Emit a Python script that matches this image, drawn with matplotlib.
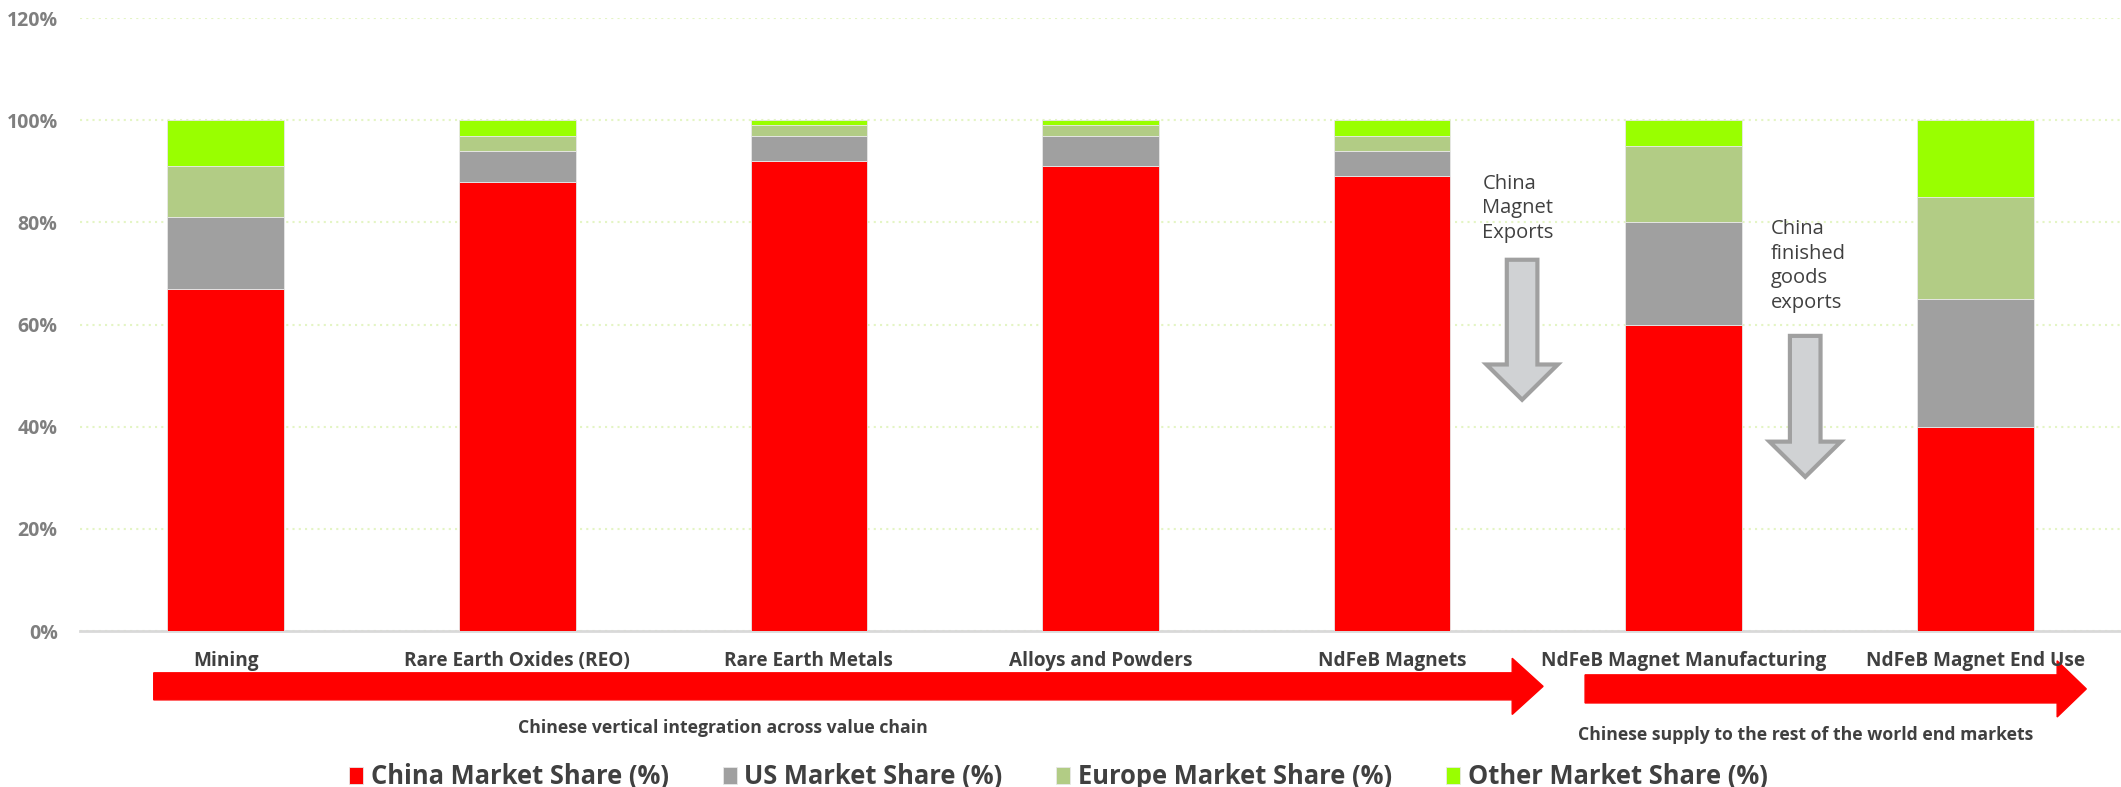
import matplotlib
matplotlib.use('Agg')
import matplotlib.pyplot as plt
from matplotlib.patches import FancyArrow
import numpy as np

plt.rcParams['font.family'] = ['Open Sans', 'DejaVu Sans']

# stage data (market share, %)
stages = ['Mining', 'Rare Earth Oxides (REO)', 'Rare Earth Metals', 'Alloys and Powders',
          'NdFeB Magnets', 'NdFeB Magnet Manufacturing', 'NdFeB Magnet End Use']
china = [67, 88, 92, 91, 89, 60, 40]
us = [14, 6, 5, 6, 5, 20, 25]
europe = [10, 3, 2, 2, 3, 15, 20]
other = [9, 3, 1, 1, 3, 5, 15]

series = [('China Market Share (%)', china, '#FF0000'),
          ('US Market Share (%)', us, '#A0A0A0'),
          ('Europe Market Share (%)', europe, '#B2CC85'),
          ('Other Market Share (%)', other, '#99FF00')]

fig = plt.figure(figsize=(21.21, 7.87), dpi=100)
ax = fig.add_axes([0.0377, 0.198, 0.9623, 0.779])

x = np.arange(len(stages))
bottom = np.zeros(len(stages))
for name, vals, col in series:
    ax.bar(x, vals, 0.4, bottom=bottom, color=col, label=name, zorder=3,
           edgecolor='#E8E8E8', linewidth=0.6)
    bottom += np.array(vals)

ax.set_xlim(-0.5, len(stages) - 0.5)
ax.set_ylim(0, 120)
ax.set_yticks(range(0, 121, 20))
ax.set_yticklabels([f'{v}%' for v in range(0, 121, 20)], fontsize=14,
                   fontweight='bold', color='#7F7F7F')
ax.set_xticks(x)
ax.set_xticklabels(stages, fontsize=13.7, fontweight='bold', color='#404040')
ax.tick_params(axis='x', length=0, pad=14)
ax.tick_params(axis='y', length=0, pad=16)
ax.grid(axis='y', linestyle=(0, (1, 2)), color='#E4F5C4', linewidth=1.5, zorder=0)
for s in ['top', 'right', 'left']:
    ax.spines[s].set_visible(False)
ax.spines['bottom'].set_color('#D9D9D9')
ax.spines['bottom'].set_linewidth(2)

# red value chain arrows below the categories
ax.add_patch(FancyArrow(-0.247, -10.8, 4.765, 0, width=5.3, head_width=11.0,
                        head_length=0.106, length_includes_head=True,
                        color='#FF0000', clip_on=False))
ax.add_patch(FancyArrow(4.662, -11.3, 1.719, 0, width=5.5, head_width=11.0,
                        head_length=0.1, length_includes_head=True,
                        color='#FF0000', clip_on=False))
ax.text(1.705, -19.0, 'Chinese vertical integration across value chain', ha='center',
        va='center', fontsize=12.7, fontweight='bold', color='#404040', clip_on=False)
ax.text(5.42, -20.4, 'Chinese supply to the rest of the world end markets', ha='center',
        va='center', fontsize=12.7, fontweight='bold', color='#404040', clip_on=False)

# grey export arrows
for xc, top, tip in [(4.446, 72.7, 45.3), (5.417, 57.8, 30.2)]:
    ax.add_patch(FancyArrow(xc, top, 0, tip - top, width=0.105, head_width=0.245,
                            head_length=6.9, length_includes_head=True,
                            facecolor='#D0D2D4', edgecolor='#A0A0A0', linewidth=3,
                            zorder=4))
ax.text(4.31, 89.5, 'China\nMagnet\nExports', ha='left', va='top', fontsize=14.5,
        color='#404040', linespacing=1.3)
ax.text(5.30, 80.6, 'China\nfinished\ngoods\nexports', ha='left', va='top', fontsize=14.5,
        color='#404040', linespacing=1.3)

leg = fig.legend(loc='center', bbox_to_anchor=(0.499, 0.013), ncol=4, frameon=False,
                 prop={'size': 18.4, 'weight': 'bold'}, handlelength=0.55,
                 handleheight=0.65, handletextpad=0.3, columnspacing=2.1)
for t in leg.get_texts():
    t.set_color('#404040')

fig.savefig('out.png', dpi=100)
